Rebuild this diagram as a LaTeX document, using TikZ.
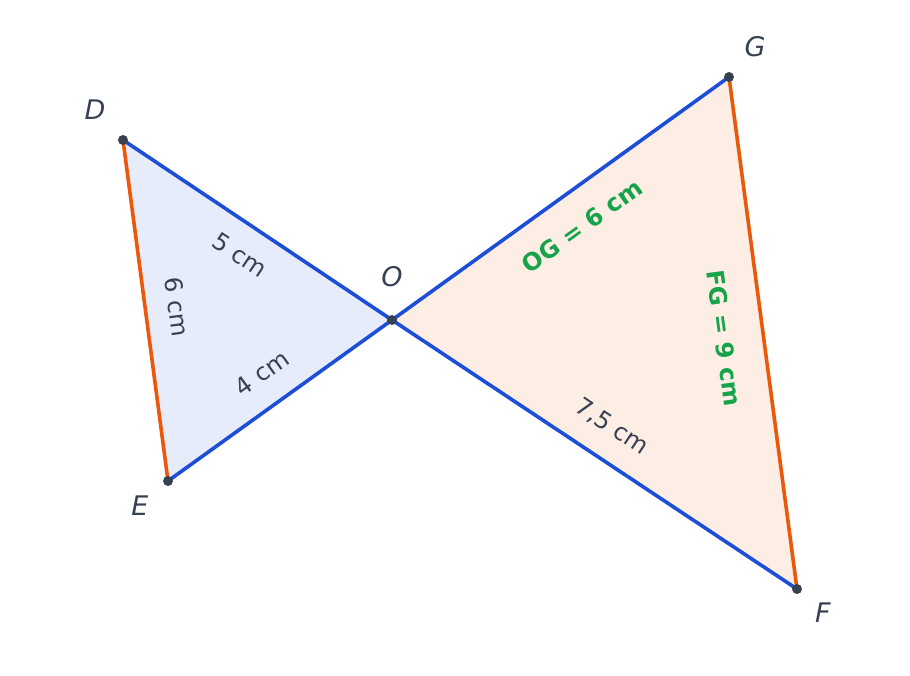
\documentclass[tikz,border=0pt]{standalone}
\usepackage{fontspec}
\setmainfont{DejaVu Sans}
\begin{document}
\begin{tikzpicture}[x=1pt,y=-1pt,
  seg/.style={line width=3.6pt,color=segblue},
  side/.style={line width=3.6pt,color=segorange},
  pt/.style={circle,fill=ptgray,inner sep=0pt,minimum size=10pt},
  lab/.style={font=\fontsize{27}{32}\selectfont\itshape,text=ptgray},
  meas/.style={font=\fontsize{24}{28}\selectfont,text=ptgray,inner sep=1pt},
  gmeas/.style={font=\fontsize{24}{28}\selectfont\bfseries,text=gtxt,inner sep=1pt}]
\definecolor{segblue}{HTML}{1D4ED8}
\definecolor{segorange}{HTML}{EA580C}
\definecolor{ptgray}{HTML}{374151}
\definecolor{gtxt}{HTML}{16A34A}
\definecolor{fillblue}{HTML}{E6ECF9}
\definecolor{fillpeach}{HTML}{FCEDE5}
\useasboundingbox (0,0) rectangle (910,676);
\coordinate (D) at (123,140);
\coordinate (E) at (168,481);
\coordinate (O) at (392,320);
\coordinate (G) at (729,77);
\coordinate (F) at (797,589);
\fill[fillblue] (D) -- (O) -- (E) -- cycle;
\fill[fillpeach] (O) -- (G) -- (F) -- cycle;
\draw[side] (D) -- (E);
\draw[side] (G) -- (F);
\draw[seg] (D) -- (O) -- (F);
\draw[seg] (E) -- (O) -- (G);
\node[pt] (pD) at (D) {};
\node[pt] (pE) at (E) {};
\node[pt] (pO) at (O) {};
\node[pt] (pG) at (G) {};
\node[pt] (pF) at (F) {};
\node[lab] (lD) at (95,110) {D};
\node[lab] (lE) at (140,506) {E};
\node[lab] (lO) at (392,277) {O};
\node[lab] (lG) at (755,47) {G};
\node[lab] (lF) at (823,613) {F};
\node[meas,rotate=-33.8] (m1) at (240,255) {5 cm};
\node[meas,rotate=-82.5] (m2) at (177,307) {6 cm};
\node[meas,rotate=35.7] (m3) at (262,373) {4 cm};
\node[meas,rotate=-33.5] (m4) at (612,427) {7,5 cm};
\node[gmeas,rotate=35.8] (m5) at (582,226) {OG = 6 cm};
\node[gmeas,rotate=-82.4] (m6) at (724,338) {FG = 9 cm};
\end{tikzpicture}
\end{document}
